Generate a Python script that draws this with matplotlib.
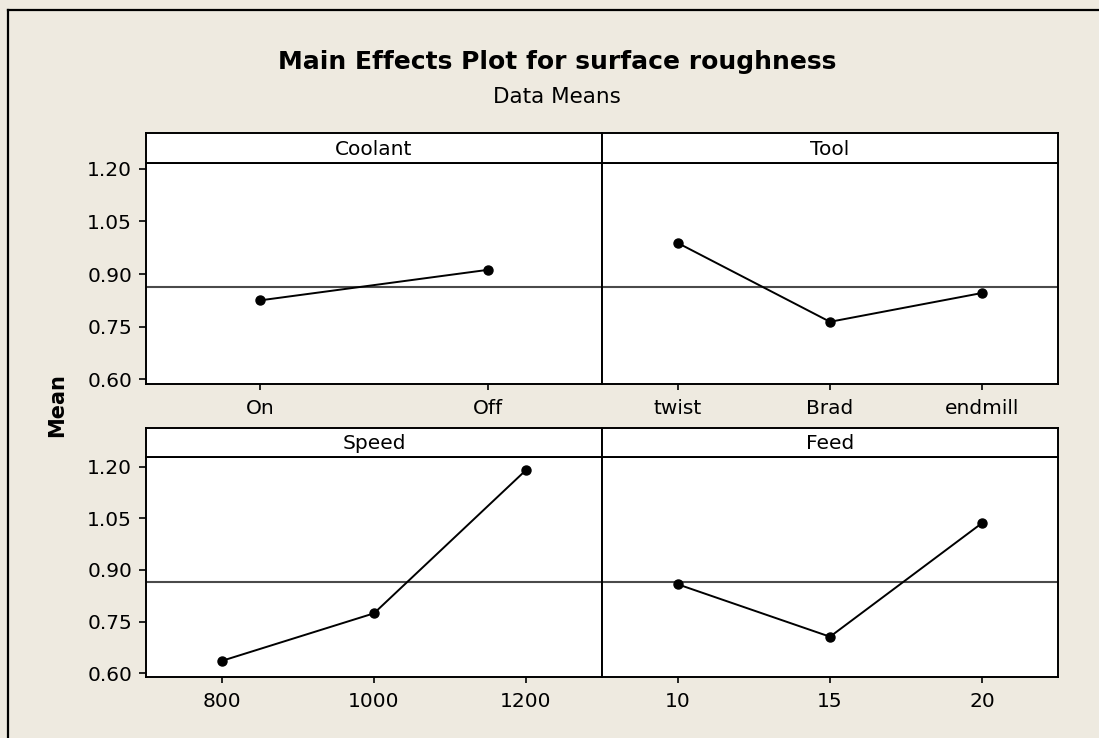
import matplotlib
matplotlib.use("Agg")
import matplotlib.pyplot as plt
from matplotlib.lines import Line2D

# ---- data ----
factors = ["Coolant", "Tool", "Speed", "Feed"]
coolant_levels = ["On", "Off"]
coolant_means = [0.825, 0.912]
tool_levels = ["twist", "Brad", "endmill"]
tool_means = [0.988, 0.764, 0.846]
speed_levels = ["800", "1000", "1200"]
speed_means = [0.636, 0.774, 1.190]
feed_levels = ["10", "15", "20"]
feed_means = [0.858, 0.706, 1.036]
grand_mean = 0.864
y_ticks = [0.60, 0.75, 0.90, 1.05, 1.20]
y_tick_labels = ["0.60", "0.75", "0.90", "1.05", "1.20"]

title = "Main Effects Plot for surface roughness"
subtitle = "Data Means"
ylabel = "Mean"

# ---- style ----
plt.rcParams['font.family'] = ['DejaVu Sans']
BG = '#EEEAE0'
W, H = 1099, 738
fig = plt.figure(figsize=(W / 100, H / 100), dpi=100, facecolor=BG)

def fx(px):
    return px / W

def fy(py):
    return 1 - py / H

col_x = [146, 602]
col_w = 456
rows = [  # (strip_top, plot_top, plot_bottom, ylim)
    (133, 163, 384, (0.587, 1.216)),
    (428, 457, 677, (0.589, 1.228)),
]

panels = [
    (factors[0], coolant_levels, coolant_means, 0, 0),
    (factors[1], tool_levels, tool_means, 0, 1),
    (factors[2], speed_levels, speed_means, 1, 0),
    (factors[3], feed_levels, feed_means, 1, 1),
]

LW = 1.4
FS = 14.5
for name, levels, means, r, c in panels:
    st, pt, pb, ylim = rows[r]
    x0 = col_x[c]
    ax = fig.add_axes([fx(x0), fy(pb), fx(col_w), (pb - pt) / H])
    ax.set_facecolor('white')
    xs = list(range(1, len(levels) + 1))
    ax.axhline(grand_mean, color='#4a4a4a', lw=1.5, zorder=1)
    ax.plot(xs, means, color='black', lw=1.4, marker='o', markersize=6.5,
            markerfacecolor='black', markeredgecolor='black', zorder=3)
    ax.set_xlim(0.5, len(levels) + 0.5)
    ax.set_ylim(*ylim)
    ax.set_xticks(xs)
    ax.set_xticklabels(levels, fontsize=FS)
    ax.tick_params(axis='x', direction='out', length=4, width=1.2, pad=7)
    if c == 0:
        ax.set_yticks(y_ticks)
        ax.set_yticklabels(y_tick_labels, fontsize=FS)
        ax.tick_params(axis='y', direction='out', length=5, width=1.2, pad=5)
    else:
        ax.set_yticks([])
    for sp in ax.spines.values():
        sp.set_linewidth(LW)
        sp.set_color('black')

    # strip
    sax = fig.add_axes([fx(x0), fy(pt), fx(col_w), (pt - st) / H])
    sax.set_facecolor('white')
    sax.set_xticks([])
    sax.set_yticks([])
    for sp in sax.spines.values():
        sp.set_linewidth(LW)
        sp.set_color('black')
    sax.text(0.5, 0.45, name, ha='center', va='center', fontsize=FS,
             transform=sax.transAxes)

fig.text(fx(557), fy(62), title, ha='center', va='center', fontsize=18,
         fontweight='bold')
fig.text(fx(557), fy(97), subtitle, ha='center', va='center', fontsize=15.5)
fig.text(fx(57), fy(405), ylabel, ha='center', va='center', fontsize=15,
         fontweight='bold', rotation=90)

# outer frame (top and left edges visible)
fig.add_artist(Line2D([fx(8), 1.0], [fy(10), fy(10)], color='black', lw=1.6))
fig.add_artist(Line2D([fx(8), fx(8)], [fy(10), 0.0], color='black', lw=1.6))

fig.savefig("out.png", dpi=100, facecolor=BG)
